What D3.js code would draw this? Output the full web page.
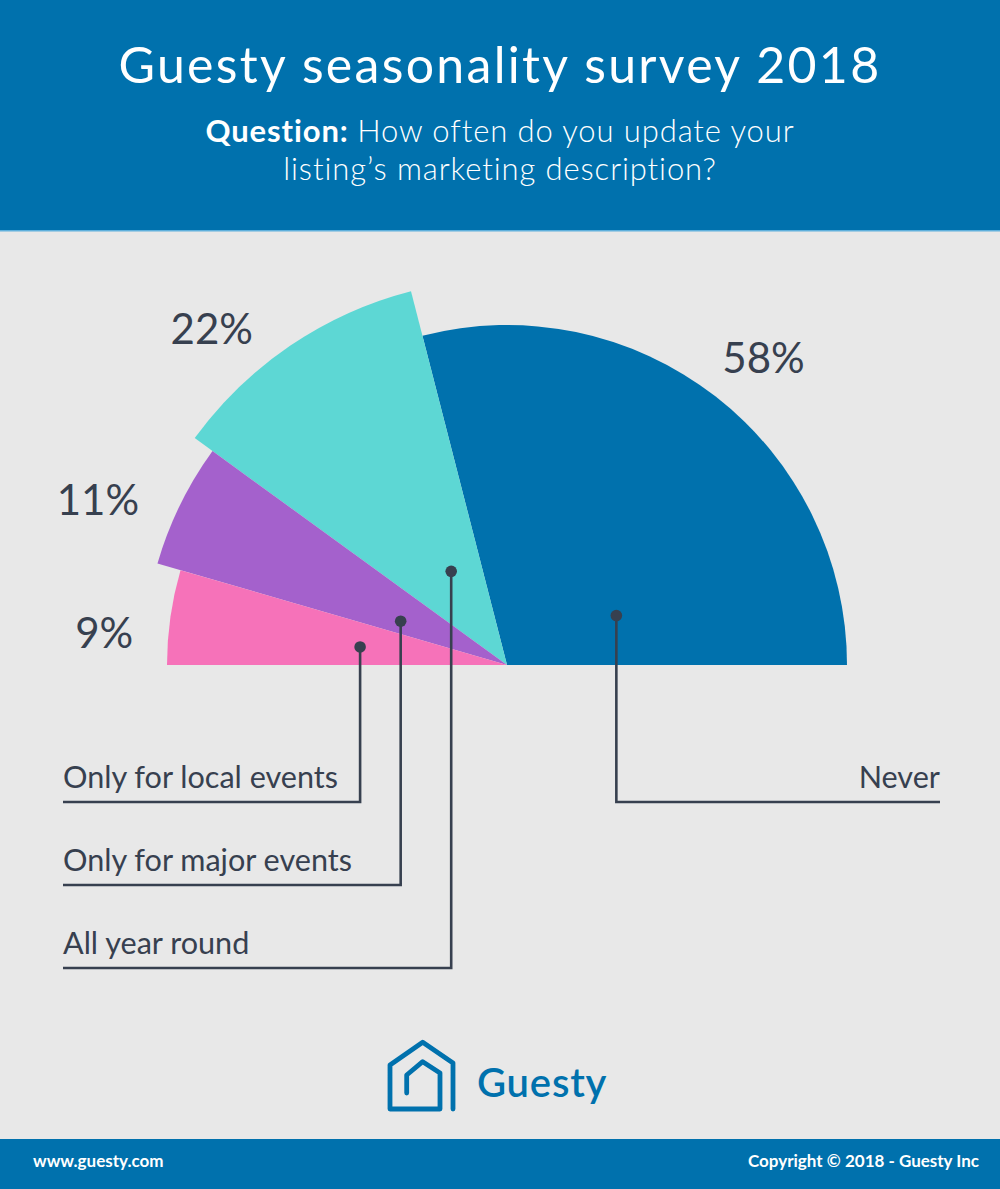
<!DOCTYPE html>
<html>
<head>
<meta charset="utf-8">
<script src="https://cdn.jsdelivr.net/npm/d3@7"></script>
<style>
    body { margin: 0; background: #e8e8e8; }
    svg { display: block; font-family: Lato, "Open Sans", sans-serif; }
</style>
</head>
<body>
<svg width="1000" height="1189"></svg>
<script>
// survey answers, in the order they go round the half pie (right to left)
const categories = ["Never", "All year round", "Only for major events", "Only for local events"]
const values = [58, 22, 11, 9]

const title = "Guesty seasonality survey 2018"
const question_lead = "Question:"
const question_lines = ["How often do you update your", "listing\u2019s marketing description?"]
const footer_left = "www.guesty.com"
const footer_right = "Copyright \u00a9 2018 - Guesty Inc"
const brand = "Guesty"

// styling per slice
const colors = ["#0071ad", "#5dd7d4", "#a461cc", "#f672b9"]
const radii = [340, 386, 364, 340]
// where the leader dot sits inside each slice (fraction of the sweep, radius)
const dot_t = [0.233, 0.414, 0.687, 0.568]
const dot_r = [120, 109, 115, 148]
// where the % label sits outside each slice
const label_t = [0.48, 0.68, 0.71, 0.72]
const label_gap = [60, 61, 77, 64]
// leader rows: 0 = top row
const leader_row = [0, 2, 1, 0]

const W = 1000, H = 1189
const cx = 507, cy = 665
const ink = "#37404f"
const blue = "#0071ad"

const svg = d3.select("svg")

svg.append("rect").attr("width", W).attr("height", H).attr("fill", "#e8e8e8")

// header
svg.append("rect").attr("width", W).attr("height", 230).attr("fill", blue)
svg.append("rect").attr("y", 230).attr("width", W).attr("height", 1.5).attr("fill", "#5fb0dc")

svg.append("text")
    .attr("x", W / 2).attr("y", 83)
    .attr("text-anchor", "middle")
    .attr("fill", "#fff")
    .style("font-size", "50px")
    .style("font-weight", 400)
    .style("letter-spacing", "2.3px")
    .text(title)

const q = svg.append("text")
    .attr("text-anchor", "middle")
    .attr("fill", "#fff")
    .style("font-size", "31px")
    .style("letter-spacing", "0.9px")
q.append("tspan").attr("x", W / 2).attr("y", 142)
    .call(t => t.append("tspan").style("font-weight", 700).text(question_lead + " "))
    .call(t => t.append("tspan").style("font-weight", 300).text(question_lines[0]))
q.append("tspan").attr("x", W / 2).attr("y", 180)
    .style("font-weight", 300)
    .text(question_lines[1])

// half pie
const pie = d3.pie().sort(null).startAngle(Math.PI / 2).endAngle(-Math.PI / 2)
const arcs = pie(values)
const arc = d3.arc().innerRadius(0).outerRadius(d => radii[d.index])

const polar = (d, t, r) => {
    const a = d.startAngle + t * (d.endAngle - d.startAngle)
    return [cx + r * Math.sin(a), cy - r * Math.cos(a)]
}

const g = svg.append("g").attr("transform", `translate(${cx},${cy})`)
g.selectAll("path")
    .data(arcs)
    .enter()
    .append("path")
    .attr("d", arc)
    .attr("fill", (d, i) => colors[i])

// percentage labels
svg.append("g")
    .selectAll("text")
    .data(arcs)
    .enter()
    .append("text")
    .attr("x", d => polar(d, label_t[d.index], radii[d.index] + label_gap[d.index])[0])
    .attr("y", d => polar(d, label_t[d.index], radii[d.index] + label_gap[d.index])[1])
    .attr("text-anchor", "middle")
    .attr("dy", "0.35em")
    .attr("fill", ink)
    .style("font-size", "42px")
    .style("font-weight", 400)
    .text(d => d.data + "%")

// leaders
const row_y = d3.scaleLinear().domain([0, 2]).range([802, 968])
const left_x = 63, right_x = 940

const leaders = svg.append("g")
arcs.forEach(d => {
    const i = d.index
    const [px, py] = polar(d, dot_t[i], dot_r[i])
    const ly = row_y(leader_row[i])
    const on_right = px > cx
    const end_x = on_right ? right_x : left_x

    leaders.append("path")
        .attr("d", d3.line()([[px, py], [px, ly], [end_x, ly]]))
        .attr("fill", "none")
        .attr("stroke", ink)
        .attr("stroke-width", 2.6)

    leaders.append("circle")
        .attr("cx", px).attr("cy", py).attr("r", 5.8)
        .attr("fill", ink)

    leaders.append("text")
        .attr("x", end_x)
        .attr("y", ly - 14)
        .attr("text-anchor", on_right ? "end" : "start")
        .attr("fill", ink)
        .style("font-size", "30.6px")
        .text(categories[i])
})

// logo
const logo = svg.append("g").attr("transform", "translate(388,1040)")
logo.append("path")
    .attr("d", d3.line()([[65, 69], [65, 23], [34.7, 2.3], [2, 25], [2, 69], [52, 69], [52, 33], [34.7, 21.7], [18.7, 35], [18.7, 53]]))
    .attr("fill", "none")
    .attr("stroke", blue)
    .attr("stroke-width", 4.8)
    .attr("stroke-linejoin", "round")
    .attr("stroke-linecap", "round")
svg.append("text")
    .attr("x", 477).attr("y", 1097)
    .attr("fill", blue)
    .style("font-size", "40px")
    .style("font-weight", 600)
    .style("letter-spacing", "0.8px")
    .text(brand)

// footer
svg.append("rect").attr("y", 1139).attr("width", W).attr("height", H - 1139).attr("fill", blue)
svg.append("text")
    .attr("x", 33).attr("y", 1167)
    .attr("fill", "#fff")
    .style("font-size", "17px")
    .style("font-weight", 700)
    .text(footer_left)
svg.append("text")
    .attr("x", 979).attr("y", 1167)
    .attr("text-anchor", "end")
    .attr("fill", "#fff")
    .style("font-size", "17px")
    .style("font-weight", 700)
    .text(footer_right)
</script>
</body>
</html>
